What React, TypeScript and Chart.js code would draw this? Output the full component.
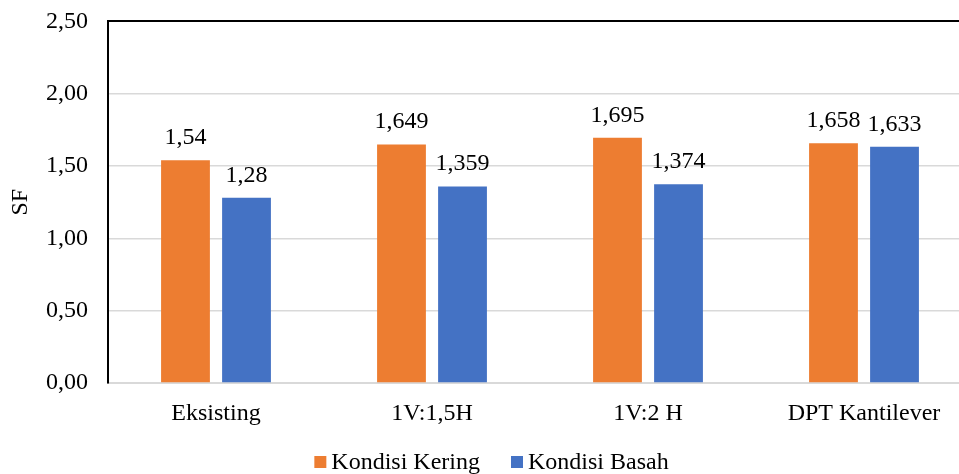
import React, { useEffect, useRef } from "react";
import { Chart, registerables } from "chart.js";

Chart.register(...registerables);

const categories = ["Eksisting", "1V:1,5H", "1V:2 H", "DPT Kantilever"];
const keringValues = [1.54, 1.649, 1.695, 1.658];
const basahValues = [1.28, 1.359, 1.374, 1.633];
const keringLabels = ["1,54", "1,649", "1,695", "1,658"];
const basahLabels = ["1,28", "1,359", "1,374", "1,633"];
const seriesNames = ["Kondisi Kering", "Kondisi Basah"];
const seriesColors = ["#ED7D31", "#4472C4"];

const FONT = "'Liberation Serif', 'Times New Roman', serif";
const SHIFT = 13;

const labelPlugin = {
  id: "barLabels",
  afterDatasetsDraw(chart: any) {
    const ctx = chart.ctx;
    const lists = [keringLabels, basahLabels];
    ctx.save();
    ctx.font = `24px ${FONT}`;
    ctx.fillStyle = "#000";
    ctx.textAlign = "center";
    ctx.textBaseline = "alphabetic";
    chart.data.datasets.forEach((_ds: any, i: number) => {
      const meta = chart.getDatasetMeta(i);
      meta.data.forEach((bar: any, j: number) => {
        ctx.fillText(lists[i][j], bar.x, bar.y - 16);
      });
    });
    ctx.restore();
  },
};

const legendPlugin = {
  id: "customLegend",
  afterDraw(chart: any) {
    const ctx = chart.ctx;
    ctx.save();
    ctx.font = `24px ${FONT}`;
    ctx.textBaseline = "middle";
    ctx.textAlign = "left";
    const box = 12;
    const gapText = 5;
    const gapItem = 31;
    const widths = seriesNames.map((n) => ctx.measureText(n).width);
    const total = widths.reduce((a, w) => a + box + gapText + w, 0) + gapItem * (seriesNames.length - 1);
    let x = 491.5 - total / 2;
    const cy = 462 + SHIFT;
    seriesNames.forEach((n, i) => {
      ctx.fillStyle = seriesColors[i];
      ctx.fillRect(x, cy - box / 2, box, box);
      ctx.fillStyle = "#000";
      ctx.fillText(n, x + box + gapText, cy + 1);
      x += box + gapText + widths[i] + gapItem;
    });
    ctx.restore();
  },
};

export default function App() {
  const ref = useRef<HTMLCanvasElement>(null);
  useEffect(() => {
    document.body.style.margin = "0";
    const chart = new Chart(ref.current!, {
      type: "bar",
      data: {
        labels: categories,
        datasets: [
          { label: seriesNames[0], data: keringValues, backgroundColor: seriesColors[0] },
          { label: seriesNames[1], data: basahValues, backgroundColor: seriesColors[1] },
        ],
      },
      options: {
        animation: false,
        responsive: false,
        devicePixelRatio: 1,
        layout: { padding: { top: 8, right: 3, bottom: 28, left: 0 } },
        datasets: {
          bar: { categoryPercentage: 0.565, barPercentage: 0.8 },
        },
        plugins: {
          legend: { display: false },
          tooltip: { enabled: false },
        },
        scales: {
          x: {
            grid: { display: false },
            border: { color: "#d9d9d9", width: 2 },
            ticks: { font: { family: FONT, size: 24 }, color: "#000", padding: 8 },
            afterFit(scale: any) {
              scale.height = 63;
            },
          },
          y: {
            min: 0,
            max: 2.5,
            ticks: {
              stepSize: 0.5,
              font: { family: FONT, size: 24 },
              color: "#000",
              padding: 20,
              callback: (v: any) => Number(v).toFixed(2).replace(".", ","),
            },
            grid: {
              color: (c: any) => (c.tick && c.tick.value === 2.5 ? "#000" : "#d9d9d9"),
              lineWidth: (c: any) => (c.tick && c.tick.value === 2.5 ? 2 : 1.5),
              drawTicks: false,
            },
            border: { color: "#000", width: 2 },
            title: {
              display: true,
              text: "SF",
              font: { family: FONT, size: 24 },
              color: "#000",
              padding: { top: 6, bottom: 0 },
            },
            afterFit(scale: any) {
              scale.width = 108;
            },
          },
        },
      },
      plugins: [labelPlugin, legendPlugin],
    });
    return () => chart.destroy();
  }, []);
  return (
    <div style={{ position: "absolute", left: 0, top: 0, width: 959, height: 474, overflow: "hidden" }}>
      <canvas
        ref={ref}
        width={975}
        height={474 + SHIFT}
        style={{ position: "absolute", left: 0, top: -SHIFT, width: 975, height: 474 + SHIFT, display: "block" }}
      />
    </div>
  );
}
